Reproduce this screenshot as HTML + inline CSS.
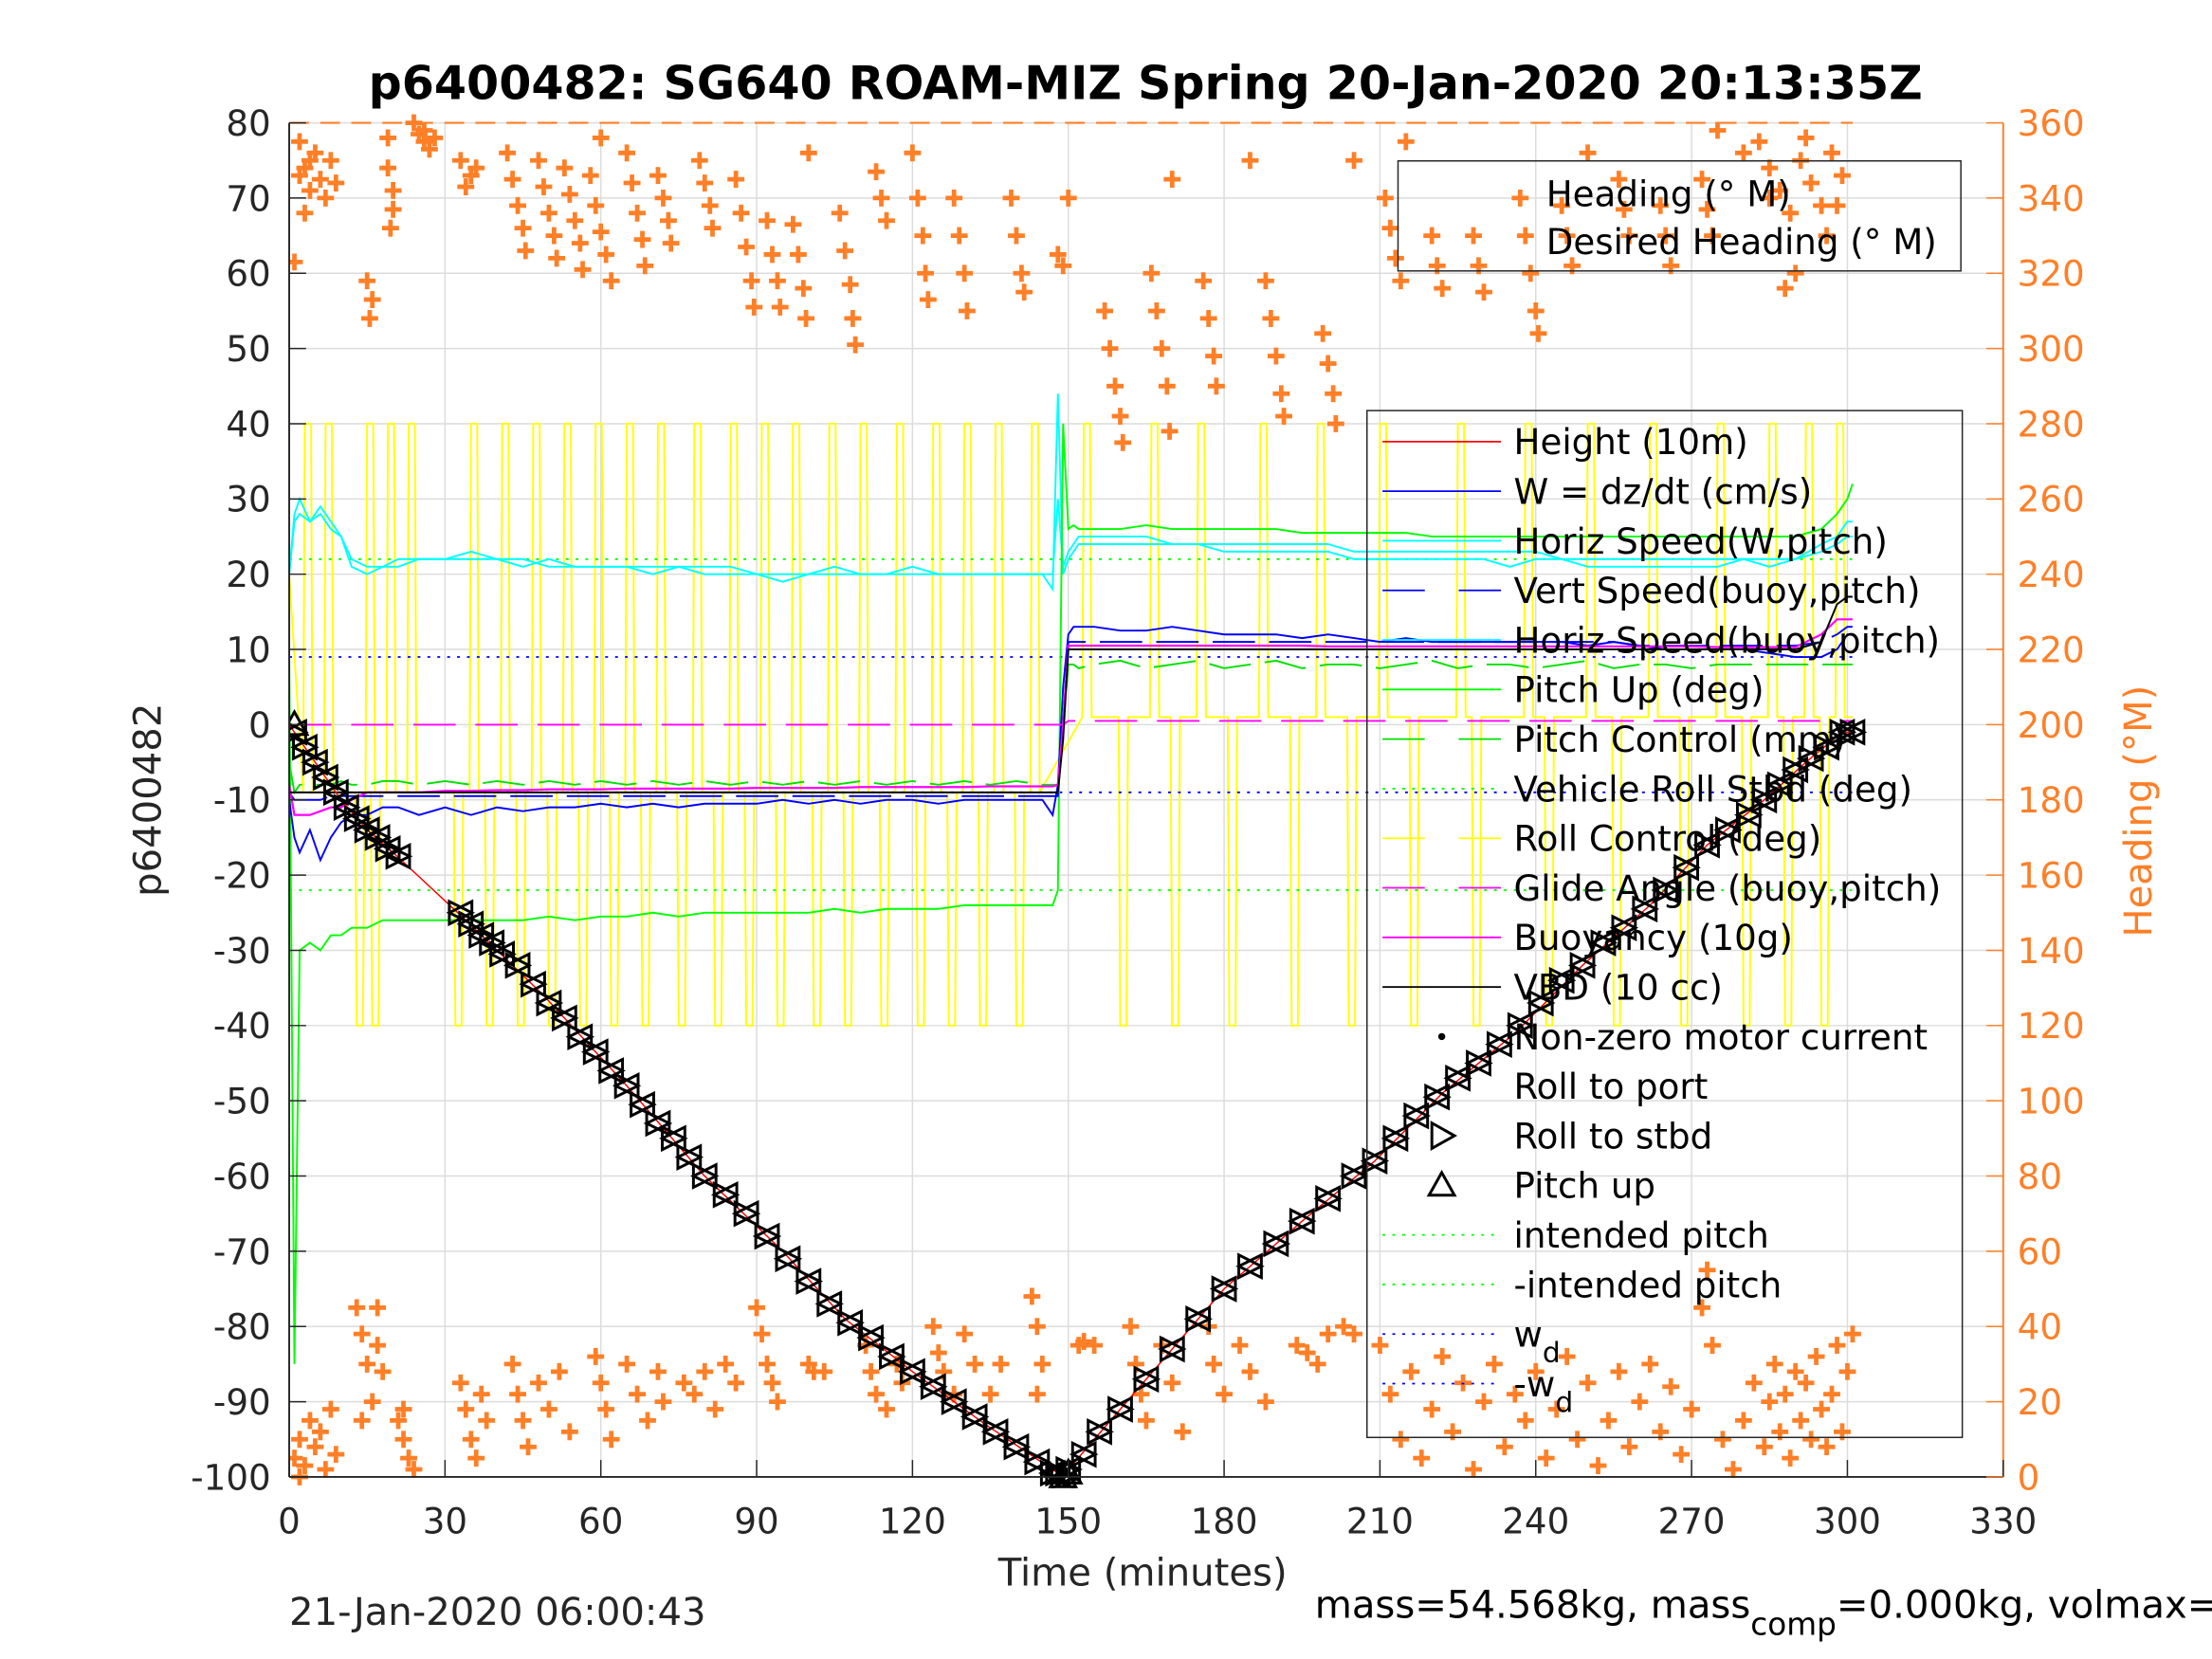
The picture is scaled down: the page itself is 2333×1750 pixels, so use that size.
<!DOCTYPE html>
<html><head><meta charset="utf-8"><style>
html,body{margin:0;padding:0;background:#fff;}
svg{display:block;font-family:"DejaVu Sans","Liberation Sans",sans-serif;}
</style></head><body>
<svg id="chart" width="2333" height="1750" viewBox="0 0 1568 1176" xmlns="http://www.w3.org/2000/svg">
<rect x="0" y="0" width="1568" height="1176" fill="#fff"/>
<g id="grid"></g>
<g id="series"></g>
<g id="axes"></g>
<text x="812" y="70" text-anchor="middle" font-size="33" font-weight="bold">p6400482: SG640 ROAM-MIZ Spring 20-Jan-2020 20:13:35Z</text>
<text x="810" y="1124" text-anchor="middle" font-size="27" fill="#262626">Time (minutes)</text>
<text transform="translate(114,567) rotate(-90)" text-anchor="middle" font-size="27" fill="#262626">p6400482</text>
<text transform="translate(1525,575) rotate(-90)" text-anchor="middle" font-size="27" fill="#ff7f27">Heading (°M)</text>
<text x="205" y="1152" font-size="27" fill="#262626">21-Jan-2020 06:00:43</text>
<text x="932" y="1147" font-size="27" fill="#000">mass=54.568kg, mass<tspan font-size="22" dy="12">comp</tspan><tspan dy="-12">=0.000kg, volmax=51000cc</tspan></text>
<g id="legend1">
<rect x="991" y="114" width="399" height="78" fill="none" stroke="#262626" stroke-width="1"/>
<text x="1096" y="146" font-size="25">Heading (° M)</text>
<text x="1096" y="180" font-size="25">Desired Heading (° M)</text>
</g>
<g id="legend2"></g>
</svg>
<script>
const NS="http://www.w3.org/2000/svg";
// ---- data ----
const xTicks=[0,30,60,90,120,150,180,210,240,270,300,330];
const yTicks=[80,70,60,50,40,30,20,10,0,-10,-20,-30,-40,-50,-60,-70,-80,-90,-100];
const rTicks=[360,340,320,300,280,260,240,220,200,180,160,140,120,100,80,60,40,20,0];
const lineT=[0,1,2,4,6,8,10,12,15,18,21,25,30,35,40,45,50,55,60,65,70,75,80,85,90,95,100,105,110,115,120,125,130,135,140,145,147,148,149,150,151,152,155,160,165,170,175,180,185,190,195,200,205,210,215,220,225,230,235,240,245,250,255,260,265,270,275,280,285,290,295,298,300,301];
const horizSpeedW=[20,28,30,27,29,27,25,21,20,21,21,22,22,23,22,21,22,21,21,21,20,21,20,20,20,19,20,20,20,20,20,20,20,20,20,20,18,44,20,22,23,24,24,24,24,24,24,23,23,23,23,23,22,22,22,22,22,22,21,22,22,21,21,21,21,21,21,22,21,22,24,25,27,27];
const horizSpeedB=[20,27,28,27,28,26,25,22,21,21,22,22,22,22,22,22,21,21,21,21,21,21,21,21,20,20,20,21,20,20,21,20,20,20,20,20,20,30,21,23,24,25,25,25,25,24,24,24,24,24,24,24,23,23,23,23,23,23,23,23,22,22,22,22,22,22,22,22,22,22,23,24,25,25];
const pitchUp=[10,-85,-30,-29,-30,-28,-28,-27,-27,-26,-26,-26,-26,-26,-26,-26,-25.5,-26,-25.5,-25.5,-25,-25.5,-25,-25,-25,-25,-25,-24.5,-25,-24.5,-24.5,-24.5,-24,-24,-24,-24,-24,-22,40,26,26.5,26,26,26,26.5,26,26,26,26,26,25.5,25.5,25.5,25.5,25.5,25,25,25,25,25,25,25,25,25,25,25,25,25,25,25,26,28,30,32];
const pitchCtl=[-5,-9,-8,-8,-8,-8,-7.5,-8,-8,-7.5,-7.5,-8,-7.5,-8,-7.5,-8,-7.5,-8,-7.5,-8,-7.5,-8,-7.5,-8,-7.5,-8,-7.5,-8,-7.5,-8,-7.5,-8,-7.5,-8,-7.5,-8,-8,-8,0,8,8,7.5,8,8.5,7.5,8,8.5,7.5,8,8.5,7.5,8,8,7.5,8,8.5,7.5,8,8,7.5,8,8.5,7.5,8,8,7.5,8,8,8,8,8,8,8,8];
const wSpeed=[-10,-15,-17,-14,-18,-15,-13,-12,-12,-11,-11,-12,-11,-12,-11,-11.5,-11,-11,-10.5,-11,-10.5,-11,-10.5,-10.5,-10.5,-10,-10.5,-10,-10.5,-10,-10,-10.5,-10,-10,-10,-10,-12,-8,5,12,13,13,13,12.5,12.5,13,12.5,12,12,12,11.5,12,11.5,11,11.5,11,11,11,11,11,11,10.5,11,10.5,10,10,10,10,9.5,9,9,10,12,12];
const vertSpeedB=[-9,-10,-10,-10,-10,-9.5,-9.5,-9.5,-9.5,-9.5,-9.5,-9.5,-9.5,-9.5,-9.5,-9.5,-9.5,-9.5,-9.5,-9.5,-9.5,-9.5,-9.5,-9.5,-9.5,-9.5,-9.5,-9.5,-9.5,-9.5,-9.5,-9.5,-9.5,-9.5,-9.5,-9.5,-9.5,-9.5,0,11,11,11,11,11,11,11,11,11,11,11,11,11,11,11,11,11,11,11,11,11,11,11,11,10.5,10.5,10.5,10.5,10.5,10.5,10.5,11,12,13,13];
const buoyancy=[-8,-12,-12,-12,-11.5,-11,-11,-10,-9,-9,-9,-9,-8.8,-8.8,-8.7,-8.7,-8.6,-8.6,-8.6,-8.5,-8.5,-8.5,-8.5,-8.5,-8.4,-8.4,-8.4,-8.4,-8.3,-8.3,-8.3,-8.3,-8.3,-8.2,-8.2,-8.2,-8.2,-8,0,10.5,10.5,10.5,10.5,10.5,10.5,10.5,10.5,10.5,10.5,10.5,10.5,10.4,10.4,10.4,10.4,10.4,10.4,10.4,10.4,10.4,10.4,10.4,10.4,10.4,10.4,10.4,10.3,10.3,10.3,10.3,12,14,14,14];
const vbd=[-9,-9,-9,-9,-9,-9,-9,-9,-9,-9,-9,-9,-9,-9,-9,-9,-9,-9,-9,-9,-9,-9,-9,-9,-9,-9,-9,-9,-9,-9,-9,-9,-9,-9,-9,-9,-9,-9,-2,10,10,10,10,10,10,10,10,10,10,10,10,10,10,10,10,10,10,10,10,10,10,10,10,10,10,10,10,10,10,10,11,16,17,17];
const glideT=[0,149,150,301];
const glideV=[0,0,0.5,0.5];
const depthT=[0,5,10,15,20,34,49,65,80,95,107,120,134,148,150,155,165,180,195,209,222,236,249,262,273,284,292,299,301];
const depthV=[0,-5,-10,-14,-17,-26,-36,-48,-60,-70,-79,-86,-93,-99.5,-99,-95,-87,-75,-66,-58,-49,-41,-32,-24,-16,-10,-5,-1,-1];
const rollT=[1,3,5,7,9,11,13,15,17,19,21,33,35,37,39,41,44,47,50,53,56,59,62,65,68,71,74,77,80,84,88,92,96,100,104,108,112,116,120,124,128,132,136,140,144,147,148,149,150,153,156,160,165,170,175,180,185,190,195,200,205,209,213,217,221,225,229,233,237,241,245,249,253,257,261,265,269,273,277,281,284,287,290,293,296,299,301];
const rollV=[-1,-3,-5,-7,-9,-11,-12.5,-14,-15,-16.5,-17.5,-25,-26.5,-28,-29,-30.5,-32,-34.5,-37,-39,-41.5,-43.5,-46,-48,-50.5,-53,-55,-57.5,-60,-62.5,-65,-68,-71,-74,-77,-79.5,-81.5,-84,-86,-88,-90,-92,-94,-96,-98,-99.5,-99.5,-100,-99,-97,-94,-91,-87,-83,-79,-75,-72,-69,-66,-63,-60,-58,-55,-52,-49.5,-47,-45,-42.5,-40,-37,-34,-32,-29,-27,-24.5,-22,-19,-16,-14,-12,-10,-8,-6,-4.5,-3,-1,-1];
const pitchUpT=[1,149,150];
const pitchUpV=[0,-100,-99.5];
const rollUpT=[3,7,15,19,23,35,41,47,53,59,65,71,78,85,91,97,104,110,117,124,130,136,143,153,166,175,187,198,210,225,238,250,262,275,285,292,298];
const rollDownT=[13,16,32,38,44,50,56,62,68,75,82,88,94,101,107,114,121,127,133,140,160,170,181,193,204,216,228,242,255,268,280,288,295];
const rollBaseBefore=-9, rollBaseAfter=1, rollHigh=40, rollLow=-40;
const intendedPitch=22, wd=9;
const headingObs=[[2,355],[3,348],[4,342],[3,336],[1,323],[5,352],[6,345],[7,340],[8,350],[9,344],[2,346],[4,350],[15,318],[16,313],[15.5,308],[19,356],[19,348],[20,342],[20,337],[19.5,332],[24,360],[25,357],[26,355],[27,353],[28,356],[26,358],[33,350],[35,346],[34,343],[36,348],[42,352],[43,345],[44,338],[45,332],[45.5,326],[48,350],[49,343],[50,336],[51,330],[51.5,324],[53,348],[54,341],[55,334],[56,328],[56.5,321],[58,346],[59,338],[60,331],[61,325],[62,318],[65,352],[66,344],[67,336],[68,329],[68.5,322],[71,346],[72,340],[73,334],[73.5,328],[79,350],[80,344],[81,338],[81.5,332],[86,345],[87,336],[88,327],[89,318],[89.5,311],[92,334],[93,325],[94,318],[94.5,311],[97,333],[98,325],[99,316],[99.5,308],[106,336],[107,326],[108,317],[108.5,308],[109,301],[113,347],[114,340],[115,334],[120,352],[121,340],[122,330],[122.5,320],[123,313],[128,340],[129,330],[130,320],[130.5,310],[139,340],[140,330],[141,320],[141.5,315],[148,325],[149,322],[157,310],[158,300],[159,290],[160,282],[160.5,275],[166,320],[167,310],[168,300],[169,290],[169.5,278],[176,318],[177,308],[178,298],[178.5,290],[188,318],[189,308],[190,298],[191,288],[191.5,282],[199,304],[200,296],[201,288],[201.5,280],[211,340],[212,332],[213,324],[214,318],[220,330],[221,322],[222,316],[228,330],[229,322],[230,315],[237,340],[238,330],[239,320],[240,310],[240.5,304],[245,338],[246,330],[247,322],[256,345],[257,337],[258,330],[264,338],[265,330],[266,322],[272,345],[273,337],[274,330],[283,355],[285,348],[287,342],[289,336],[291,350],[293,344],[295,338],[297,352],[299,346],[296,330],[290,320],[288,316],[60,356],[100,352],[150,340],[170,345],[185,350],[205,350],[215,355],[250,352],[275,358],[280,352],[285,340],[292,356],[298,338],
[1,5],[2,10],[3,3],[4,15],[5,8],[6,12],[7,2],[8,18],[9,6],[2,0],[13,45],[14,38],[15,30],[16,20],[17,45],[17,35],[18,28],[14,15],[21,15],[22,10],[23,5],[24,2],[22,18],[33,25],[34,18],[35,10],[36,5],[37,22],[38,15],[43,30],[44,22],[45,15],[46,8],[48,25],[50,18],[52,28],[54,12],[59,32],[60,25],[61,18],[62,10],[65,30],[67,22],[69,15],[71,28],[72,20],[76,25],[78,22],[80,28],[82,18],[84,30],[86,25],[90,45],[91,38],[92,30],[93,25],[94,20],[100,30],[101,28],[103,28],[111,35],[112,28],[113,22],[115,18],[117,30],[118,25],[124,40],[125,33],[126,28],[128,22],[130,38],[132,30],[135,22],[137,30],[143,48],[144,40],[145,30],[144,22],[152,35],[153,36],[155,35],[162,40],[163,30],[164,22],[165,15],[168,35],[170,25],[172,12],[177,40],[178,30],[180,22],[183,35],[185,28],[188,20],[194,35],[196,33],[198,30],[200,38],[203,40],[205,38],[210,35],[212,22],[214,10],[216,28],[218,5],[220,18],[222,32],[224,12],[226,25],[228,2],[230,20],[232,30],[234,8],[236,22],[238,15],[240,28],[242,5],[244,18],[246,32],[248,10],[250,25],[252,3],[254,15],[256,28],[258,8],[260,20],[262,30],[264,12],[266,24],[268,6],[270,18],[272,45],[273,55],[274,35],[276,10],[278,2],[280,15],[282,25],[284,8],[285,20],[286,30],[287,12],[288,22],[289,5],[290,28],[291,15],[292,25],[293,10],[294,32],[295,18],[296,8],[297,22],[298,35],[299,12],[300,28],[301,38]];
const desiredHeading=360;
// ---- scales ----
const PL=205,PR=1420,PT=87,PB=1047;
const xs=t=>PL+t*(PR-PL)/330;
const yL=v=>PT+(80-v)*(PB-PT)/180;
const yR=h=>PB-h*(PB-PT)/360;
function mk(tag,attrs,parent){const e=document.createElementNS(NS,tag);for(const k in attrs)e.setAttribute(k,attrs[k]);parent.appendChild(e);return e;}
const grid=document.getElementById('grid'),series=document.getElementById('series'),axes=document.getElementById('axes');
xTicks.forEach(t=>{const l=mk('line',{x1:xs(t),x2:xs(t),y1:PT,y2:PB,stroke:'#dcdcdc','stroke-width':1},grid);

});
yTicks.forEach(v=>{const l=mk('line',{x1:PL,x2:PR,y1:yL(v),y2:yL(v),stroke:'#dcdcdc','stroke-width':1},grid);

});
const clip=mk('clipPath',{id:'pc'},mk('defs',{},document.getElementById('chart')));
mk('rect',{x:PL,y:PT-8,width:PR-PL,height:PB-PT+16},clip);
series.setAttribute('clip-path','url(#pc)');
function poly(ts,vs,ys,color,w,dash,name){const p=ts.map((t,i)=>xs(t).toFixed(1)+','+ys(vs[i]).toFixed(1)).join(' ');
const e=mk('polyline',{points:p,fill:'none',stroke:color,'stroke-width':w},series);if(dash)e.setAttribute('stroke-dasharray',dash);

return e;}
// heading markers
headingObs.forEach(([t,h])=>{const x=xs(t),y=yR(h);const e=mk('path',{d:`M${x-6} ${y}H${x+6}M${x} ${y-6}V${y+6}`,stroke:'#ff7f27','stroke-width':3.2},series);

});
const dh=mk('line',{x1:xs(0),x2:xs(301),y1:yR(desiredHeading),y2:yR(desiredHeading),stroke:'#ff7f27','stroke-width':1.5,'stroke-dasharray':'14 8'},series);


// roll control (yellow)
(function(){const ev=[];rollUpT.forEach(t=>ev.push([t,rollHigh]));rollDownT.forEach(t=>ev.push([t,rollLow]));ev.sort((a,b)=>a[0]-b[0]);
const ts=[0],vs=[20];ev.forEach(([t,v])=>{const b=t<149?rollBaseBefore:rollBaseAfter;ts.push(t-0.3,t,t+1.2,t+1.5);vs.push(b,v,v,b);});ts.push(301);vs.push(rollBaseAfter);
poly(ts,vs,yL,'#ffff00',1.3,null,'roll-control-line');})();
[intendedPitch,-intendedPitch].forEach(v=>{const e=mk('line',{x1:PL,x2:xs(301),y1:yL(v),y2:yL(v),stroke:'#00ff00','stroke-width':1.2,'stroke-dasharray':'2 5'},series);

});
[wd,-wd].forEach(v=>{const e=mk('line',{x1:PL,x2:xs(301),y1:yL(v),y2:yL(v),stroke:'#0000ff','stroke-width':1.2,'stroke-dasharray':'2 5'},series);

});
poly(lineT,horizSpeedB,yL,'#00ffff',1.3,null,'horiz-speed-buoy-line');
poly(lineT,horizSpeedW,yL,'#00ffff',1.3,null,'horiz-speed-w-line');
poly(lineT,pitchCtl,yL,'#00e000',1.3,'30 10','pitch-control-line');
poly(lineT,pitchUp,yL,'#00ff00',1.3,null,'pitch-up-line');
poly(lineT,vertSpeedB,yL,'#0000ff',1.3,'30 10','vert-speed-line');
poly(lineT,wSpeed,yL,'#0000ff',1.3,null,'w-speed-line');
poly(glideT,glideV,yL,'#ff00ff',1.3,'30 14','glide-angle-line');
poly(lineT,buoyancy,yL,'#ff00ff',1.5,null,'buoyancy-line');
poly(lineT,vbd,yL,'#000000',1.3,null,'vbd-line');
poly(depthT,depthV,yL,'#ff0000',1,null,'height-line');
rollT.forEach((t,i)=>{const x=xs(t),y=yL(rollV[i]),s=8;
const g=mk('path',{d:`M${x-s} ${y}L${x+s} ${y-s}L${x+s} ${y+s}Z M${x+s} ${y}L${x-s} ${y-s}L${x-s} ${y+s}Z`,fill:'none',stroke:'#000','stroke-width':2},series);

});
pitchUpT.forEach((t,i)=>{const x=xs(t),y=yL(pitchUpV[i]);
const g=mk('path',{d:`M${x} ${y-9}L${x+9} ${y+7}L${x-9} ${y+7}Z`,fill:'none',stroke:'#000','stroke-width':2},series);

});
// axes
mk('line',{x1:PL,x2:PL,y1:PT,y2:PB,stroke:'#262626','stroke-width':1.3},axes);
mk('line',{x1:PL,x2:PR,y1:PB,y2:PB,stroke:'#262626','stroke-width':1.3},axes);
mk('line',{x1:PR,x2:PR,y1:PT,y2:PB,stroke:'#ff7f27','stroke-width':1.3},axes);
xTicks.forEach(t=>{mk('line',{x1:xs(t),x2:xs(t),y1:PB,y2:PB-12,stroke:'#262626'},axes);
const e=mk('text',{x:xs(t),y:1087,'text-anchor':'middle','font-size':25,fill:'#262626'},axes);e.textContent=t;

});
yTicks.forEach(v=>{mk('line',{x1:PL,x2:PL+12,y1:yL(v),y2:yL(v),stroke:'#262626'},axes);
const e=mk('text',{x:192,y:yL(v)+9,'text-anchor':'end','font-size':25,fill:'#262626'},axes);e.textContent=v;

});
rTicks.forEach(h=>{mk('line',{x1:PR,x2:PR-12,y1:yR(h),y2:yR(h),stroke:'#ff7f27'},axes);
const e=mk('text',{x:1430,y:yR(h)+9,'font-size':25,fill:'#ff7f27'},axes);e.textContent=h;

});
// legend 2
const L=document.getElementById('legend2');
mk('rect',{x:969,y:291,width:422,height:728,fill:'none',stroke:'#262626','stroke-width':1},L);
const legendItems=[['Height (10m)','#ff0000',null],['W = dz/dt (cm/s)','#0000ff',null],['Horiz Speed(W,pitch)','#00ffff',null],['Vert Speed(buoy,pitch)','#0000ff','30 24'],['Horiz Speed(buoy,pitch)','#00ffff',null],['Pitch Up (deg)','#00ff00',null],['Pitch Control (mm)','#00e000','30 24'],['Vehicle Roll Stbd (deg)','#00ff00','2 5'],['Roll Control (deg)','#ffff00','30 24'],['Glide Angle (buoy,pitch)','#ff00ff','30 24'],['Buoyancy (10g)','#ff00ff',null],['VBD (10 cc)','#000000',null],['Non-zero motor current','dot',null],['Roll to port','none',null],['Roll to stbd','tri-r',null],['Pitch up','tri-u',null],['intended pitch','#00ff00','2 5'],['-intended pitch','#00ff00','2 5'],['w_d','#0000ff','2 5'],['-w_d','#0000ff','2 5']];
legendItems.forEach(([lab,c,d],i)=>{const y=313+i*35.15;
if(c==='dot'){mk('circle',{cx:1022,cy:y,r:2.5,fill:'#000'},L);}
else if(c==='tri-r'){mk('path',{d:`M1015 ${y-9}L1031 ${y}L1015 ${y+9}Z`,fill:'none',stroke:'#000','stroke-width':2},L);}
else if(c==='tri-u'){mk('path',{d:`M1022 ${y-9}L1031 ${y+7}L1013 ${y+7}Z`,fill:'none',stroke:'#000','stroke-width':2},L);}
else if(c!=='none'){const e=mk('line',{x1:980,x2:1064,y1:y,y2:y,stroke:c,'stroke-width':1.2},L);if(d)e.setAttribute('stroke-dasharray',d);}
const t=mk('text',{x:1073,y:y+9,'font-size':25},L);
if(lab.indexOf('w_d')>=0){t.textContent=lab.replace('_d','');const s=mk('tspan',{'font-size':20,dy:11},t);s.textContent='d';}
else t.textContent=lab;

});
</script>
</body></html>
